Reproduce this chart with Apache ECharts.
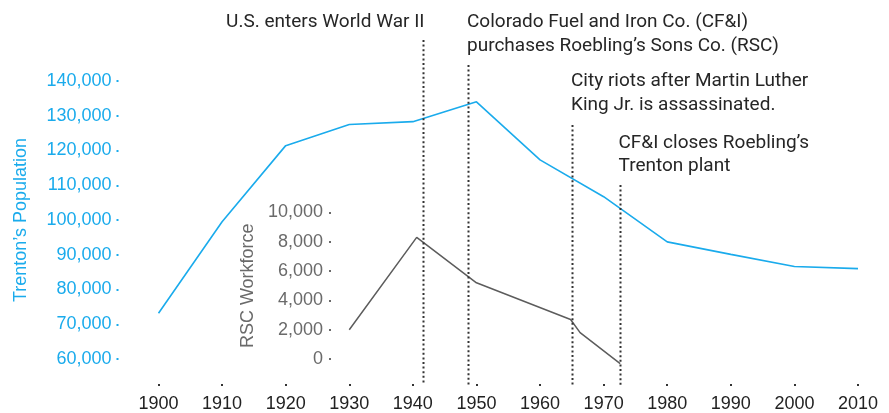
<!DOCTYPE html>
<html>
<head>
<meta charset="utf-8">
<script src="https://cdn.jsdelivr.net/npm/echarts@6/dist/echarts.min.js"></script>
<style>
  html, body { margin: 0; padding: 0; background: #fff; }
  #main { width: 889px; height: 413px; }
</style>
</head>
<body>
<div id="main"></div>
<script>
// census years and Trenton population
var years = [1900, 1910, 1920, 1930, 1940, 1950, 1960, 1970, 1980, 1990, 2000, 2010];
var population = [73150, 99500, 121400, 127500, 128300, 134000, 117300, 106700, 93700, 90100, 86600, 86000];

// Roebling's Sons Co. workforce
var workforceYears = [1930, 1940.6, 1950, 1964.8, 1966.3, 1972.6];
var workforce = [2000, 8300, 5200, 2700, 1800, -320];

// events (dotted lines)
var eventYears = [1941.6, 1948.7, 1965.1, 1972.6];
var eventLabels = [
	['U.S. enters World War II'],
	['Colorado Fuel and Iron Co. (CF&I)', 'purchases Roebling\u2019s Sons Co. (RSC)'],
	['City riots after Martin Luther', 'King Jr. is assassinated.'],
	['CF&I closes Roebling\u2019s', 'Trenton plant']
];

var popTicks = [60000, 140000, 10000];
var wfTicks = [0, 10000, 2000];

var blue = '#1aabec';
var gray = '#5c5c5c';
var axisFont = '"Liberation Sans", Arial, sans-serif';
var noteFont = 'Roboto, "Liberation Sans", sans-serif';

var chart = echarts.init(document.getElementById('main'), null, {renderer: 'canvas'});

function fmt(v) {
	return v.toLocaleString('en-US');
}

var option = {
	animation: false,
	grid: [
		{left: 158.5, right: 31, top: 81, bottom: 54},
		{left: 158.5, right: 31, top: 212.5, bottom: 54}
	],
	xAxis: [{
		type: 'value', gridIndex: 0,
		min: 1900, max: 2010, interval: 10,
		offset: 25,
		axisLine: {show: false},
		axisTick: {show: true, length: 2, lineStyle: {color: '#333', width: 2}},
		splitLine: {show: false},
		axisLabel: {color: '#222', fontSize: 18, fontFamily: axisFont, margin: 11, formatter: function (v) { return String(v); }}
	}, {
		type: 'value', gridIndex: 1,
		min: 1900, max: 2010, interval: 10,
		show: false
	}],
	yAxis: [{
		type: 'value', gridIndex: 0,
		min: popTicks[0], max: popTicks[1], interval: popTicks[2],
		offset: 40,
		name: 'Trenton\u2019s Population',
		nameLocation: 'middle', nameGap: 88,
		nameTextStyle: {color: blue, fontSize: 18, fontFamily: axisFont},
		axisLine: {show: false},
		axisTick: {show: true, length: 2, lineStyle: {color: blue, width: 2}},
		splitLine: {show: false},
		axisLabel: {color: blue, fontSize: 18, fontFamily: axisFont, margin: 7, formatter: fmt}
	}, {
		type: 'value', gridIndex: 1,
		min: wfTicks[0], max: wfTicks[1], interval: wfTicks[2],
		offset: -172.5,
		name: 'RSC Workforce',
		nameLocation: 'middle', nameGap: 72,
		nameTextStyle: {color: '#6a6a6a', fontSize: 18, fontFamily: axisFont},
		axisLine: {show: false},
		axisTick: {show: true, length: 2, lineStyle: {color: '#6a6a6a', width: 2}},
		splitLine: {show: false},
		axisLabel: {color: '#6a6a6a', fontSize: 18, fontFamily: axisFont, margin: 8, formatter: fmt}
	}],
	series: [{
		name: 'Population',
		type: 'line',
		xAxisIndex: 0, yAxisIndex: 0,
		data: years.map(function (y, i) { return [y, population[i]]; }),
		showSymbol: false,
		lineStyle: {color: blue, width: 1.6}
	}, {
		name: 'Workforce',
		type: 'line',
		xAxisIndex: 1, yAxisIndex: 1,
		clip: false,
		data: workforceYears.map(function (y, i) { return [y, workforce[i]]; }),
		showSymbol: false,
		lineStyle: {color: gray, width: 1.5}
	}]
};
chart.setOption(option);

// event lines + notes, placed from the x scale
var lineTop = [40, 65, 125, 185];
var lineBottom = 385;
var noteY = [[22.5], [22.5, 46], [81.5, 105], [143, 166]];
var noteAlign = ['right', 'left', 'left', 'left'];
var noteShift = [1, -1.5, -1.5, -2];

var graphics = [];
eventYears.forEach(function (yr, i) {
	var x = Math.round(chart.convertToPixel({xAxisIndex: 0}, yr)) + 0.5;
	graphics.push({
		type: 'line',
		shape: {x1: x, y1: lineTop[i], x2: x, y2: lineBottom},
		style: {stroke: '#333', lineWidth: 2, lineDash: [2, 2.6]},
		z: 10
	});
	eventLabels[i].forEach(function (txt, j) {
		graphics.push({
			type: 'text',
			x: x + noteShift[i],
			y: noteY[i][j],
			style: {
				text: txt,
				fill: '#262626',
				fontSize: 19,
				fontFamily: noteFont,
				align: noteAlign[i],
				verticalAlign: 'middle'
			},
			z: 10
		});
	});
});
chart.setOption({graphic: graphics});
</script>
</body>
</html>
